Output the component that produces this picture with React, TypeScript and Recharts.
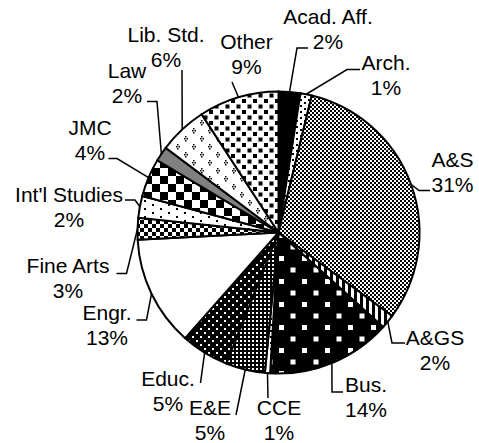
import { PieChart, Pie, Cell } from "recharts";

const categories = [
  "Acad. Aff.", "Arch.", "A&S", "A&GS", "Bus.", "CCE", "E&E", "Educ.",
  "Engr.", "Fine Arts", "Int'l Studies", "JMC", "Law", "Lib. Std.", "Other",
];
const shares = [2.5, 1.3, 31.4, 1.6, 14.3, 0.6, 4.5, 5.5, 12.7, 2.5, 2.5, 4.4, 1.7, 5.6, 9.2];
const pctLabels = ["2%", "1%", "31%", "2%", "14%", "1%", "5%", "5%", "13%", "3%", "2%", "4%", "2%", "6%", "9%"];

const data = categories.map((name, i) => ({ name, value: shares[i], pct: pctLabels[i] }));

// label block centre and leader elbow points, relative to the pie centre
const labelLayout = [
  { t: [49.5, -203.5], p1: [18.5, -184.5], p2: [29.5, -184.5] },
  { t: [107.5, -157.5], p1: [68.5, -163], p2: [81.5, -163] },
  { t: [174, -61], p1: [140.5, -42], p2: [151.5, -42] },
  { t: [156.5, 117], p1: [113.5, 110.5], p2: [126.5, 110.5] },
  { t: [87.5, 164], p1: [53.5, 159.5], p2: [64.5, 159.5] },
  { t: [0.5, 187.5], p1: [-10.5, 165.5], p2: [-10.5, 165.5] },
  { t: [-68.5, 187.5], p1: [-42.5, 182.5], p2: [-42.5, 182.5] },
  { t: [-110.5, 158.5], p1: [-78, 150.5], p2: [-78, 150.5] },
  { t: [-171.5, 92.5], p1: [-132, 87.5], p2: [-142, 87.5] },
  { t: [-210.5, 45.5], p1: [-152, 41], p2: [-162, 41] },
  { t: [-209.5, -26], p1: [-143.5, -32.5], p2: [-153.5, -32.5] },
  { t: [-188.5, -92.5], p1: [-161.5, -74], p2: [-170, -74] },
  { t: [-151.5, -149.5], p1: [-121.5, -131], p2: [-131.5, -131] },
  { t: [-112.5, -186], p1: [-96.5, -162.5], p2: [-96.5, -162.5] },
  { t: [-32, -178.5], p1: [-46.5, -150.5], p2: [-46.5, -150.5] },
];

const CX = 278.5;
const CY = 232.5;
const R = 141;
const RAD = Math.PI / 180;

function Patterns() {
  return (
    <svg width={0} height={0} style={{ position: "absolute" }}>
      <defs>
        <pattern id="p0" width={4} height={4} patternUnits="userSpaceOnUse">
          <rect width={4} height={4} fill="#000" />
        </pattern>
        <pattern id="p1" width={8} height={6} patternUnits="userSpaceOnUse">
          <rect width={8} height={6} fill="#fff" />
          <rect x={0} y={0} width={2} height={2} fill="#000" />
          <rect x={4} y={3} width={2} height={2} fill="#000" />
        </pattern>
        <pattern id="p2" width={4} height={4} patternUnits="userSpaceOnUse">
          <rect width={4} height={4} fill="#fff" />
          <rect x={0} y={0} width={2} height={2} fill="#000" />
          <rect x={2} y={2} width={2} height={2} fill="#000" />
        </pattern>
        <pattern id="p3" width={6} height={6} patternUnits="userSpaceOnUse">
          <rect width={6} height={6} fill="#fff" />
          <rect x={0} y={0} width={3} height={6} fill="#000" />
        </pattern>
        <pattern id="p4" width={23} height={23} patternUnits="userSpaceOnUse">
          <rect width={23} height={23} fill="#000" />
          <rect x={3} y={3} width={5} height={5} fill="#fff" />
          <rect x={14.5} y={14.5} width={5} height={5} fill="#fff" />
        </pattern>
        <pattern id="p5" width={6} height={6} patternUnits="userSpaceOnUse">
          <rect width={6} height={6} fill="#fff" />
          <rect x={0} y={0} width={2} height={2} fill="#000" />
        </pattern>
        <pattern id="p6" width={4} height={4} patternUnits="userSpaceOnUse">
          <rect width={4} height={4} fill="#000" />
          <rect x={0} y={0} width={2} height={2} fill="#fff" />
        </pattern>
        <pattern id="p7" width={8} height={8} patternUnits="userSpaceOnUse">
          <rect width={8} height={8} fill="#000" />
          <rect x={0} y={0} width={2} height={2} fill="#fff" />
          <rect x={4} y={4} width={2} height={2} fill="#fff" />
        </pattern>
        <pattern id="p8" width={4} height={4} patternUnits="userSpaceOnUse">
          <rect width={4} height={4} fill="#fff" />
        </pattern>
        <pattern id="p9" width={8} height={8} patternUnits="userSpaceOnUse">
          <rect width={8} height={8} fill="#fff" />
          <rect x={0} y={0} width={4} height={4} fill="#000" />
          <rect x={4} y={4} width={4} height={4} fill="#000" />
        </pattern>
        <pattern id="p10" width={16} height={8} patternUnits="userSpaceOnUse">
          <rect width={16} height={8} fill="#fff" />
          <rect x={0} y={0} width={2} height={2} fill="#000" />
          <rect x={8} y={4} width={2} height={2} fill="#000" />
        </pattern>
        <pattern id="p11" width={16} height={16} patternUnits="userSpaceOnUse">
          <rect width={16} height={16} fill="#fff" />
          <rect x={0} y={0} width={8} height={8} fill="#000" />
          <rect x={8} y={8} width={8} height={8} fill="#000" />
        </pattern>
        <pattern id="p12" width={4} height={4} patternUnits="userSpaceOnUse">
          <rect width={4} height={4} fill="#808080" />
        </pattern>
        <pattern id="p13" width={16} height={16} patternUnits="userSpaceOnUse">
          <rect width={16} height={16} fill="#fff" />
          <rect x={1} y={0} width={1.5} height={1.5} fill="#000" />
          <rect x={0} y={2} width={1.5} height={1.5} fill="#000" />
          <rect x={2.5} y={2} width={1.5} height={1.5} fill="#000" />
          <rect x={1} y={4} width={1.5} height={1.5} fill="#000" />
          <rect x={9} y={8} width={1.5} height={1.5} fill="#000" />
          <rect x={8} y={10} width={1.5} height={1.5} fill="#000" />
          <rect x={10.5} y={10} width={1.5} height={1.5} fill="#000" />
          <rect x={9} y={12} width={1.5} height={1.5} fill="#000" />
        </pattern>
        <pattern id="p14" width={11} height={11} patternUnits="userSpaceOnUse">
          <rect width={11} height={11} fill="#fff" />
          <rect x={0} y={0} width={4} height={4} fill="#000" />
          <rect x={5.5} y={5.5} width={4} height={4} fill="#000" />
        </pattern>
      </defs>
    </svg>
  );
}

function renderLabel(props: any) {
  const { midAngle, index } = props;
  const cx = typeof props.cx === "number" ? props.cx : CX;
  const cy = typeof props.cy === "number" ? props.cy : CY;
  const r = typeof props.outerRadius === "number" ? props.outerRadius : R;
  const lay = labelLayout[index];
  const ax = cx + r * Math.cos(-midAngle * RAD);
  const ay = cy + r * Math.sin(-midAngle * RAD);
  const pts = [
    [ax, ay],
    [cx + lay.p1[0], cy + lay.p1[1]],
    [cx + lay.p2[0], cy + lay.p2[1]],
  ]
    .map((p) => p.join(","))
    .join(" ");
  const tx = cx + lay.t[0];
  const ty = cy + lay.t[1];
  return (
    <g key={`lbl-${index}`}>
      <polyline points={pts} fill="none" stroke="#000" strokeWidth={1.5} />
      <text
        x={tx}
        y={ty}
        textAnchor="middle"
        fill="#000"
        fontSize={21}
        fontFamily="'Liberation Sans', Arial, sans-serif"
      >
        <tspan x={tx} y={ty - 12.5 + 7.5}>{data[index].name}</tspan>
        <tspan x={tx} y={ty + 12.5 + 7.5}>{data[index].pct}</tspan>
      </text>
    </g>
  );
}

export default function App() {
  return (
    <div style={{ position: "relative", width: 479, height: 443 }}>
      <style>{`body{margin:0;background:#fff}`}</style>
      <Patterns />
      <PieChart
        width={479}
        height={443}
        margin={{ top: 0, right: 0, bottom: 0, left: 0 }}
      >
        <Pie
          data={data}
          dataKey="value"
          nameKey="name"
          cx={CX}
          cy={CY}
          outerRadius={R}
          startAngle={90}
          endAngle={-270}
          stroke="#000"
          strokeWidth={2}
          label={renderLabel}
          labelLine={false}
          isAnimationActive={false}
        >
          {data.map((_, i) => (
            <Cell key={i} fill={`url(#p${i})`} />
          ))}
        </Pie>
      </PieChart>
    </div>
  );
}
